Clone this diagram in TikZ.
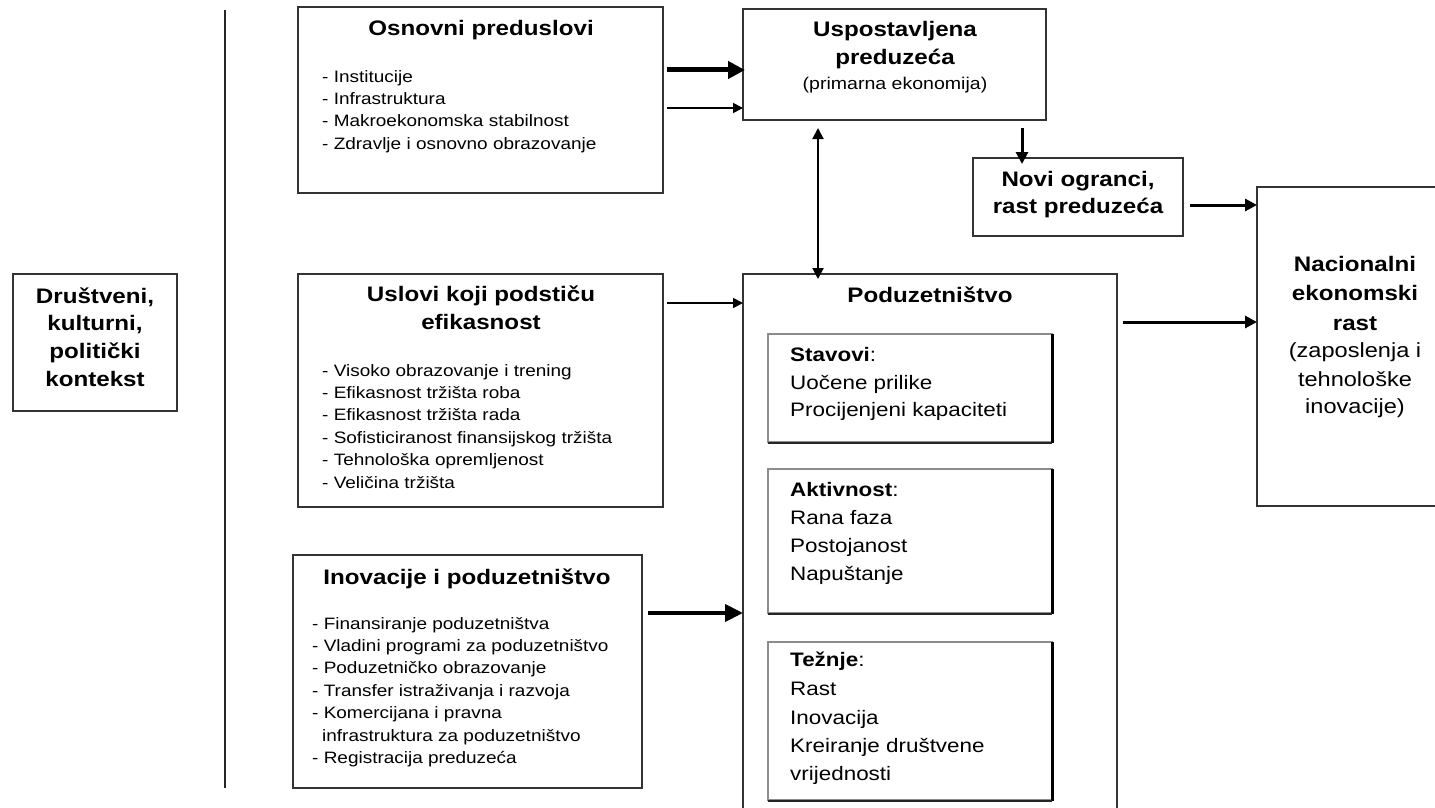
\documentclass[tikz,border=0pt]{standalone}
\usepackage{fontspec}
\setmainfont{Liberation Sans}[FakeStretch=1.15]
\usetikzlibrary{arrows.meta,calc}
\begin{document}
\begin{tikzpicture}[x=1pt,y=-1pt,
  box/.style={draw=black!80, line width=1.5pt, rectangle, inner sep=0pt, outer sep=0pt, anchor=north west},
  inbox/.style={draw=black!45, line width=1.2pt, rectangle, inner sep=0pt, outer sep=0pt, anchor=north west},
  ttl/.style={font=\fontsize{21}{28}\selectfont\bfseries, inner sep=0pt, anchor=base},
  lst/.style={font=\fontsize{16.5}{22}\selectfont, inner sep=0pt, anchor=base west},
  sbt/.style={font=\fontsize{17}{22}\selectfont, inner sep=0pt, anchor=base},
  nsb/.style={font=\fontsize{20.5}{28}\selectfont, inner sep=0pt, anchor=base},
  inn/.style={font=\fontsize{19.5}{28}\selectfont, inner sep=0pt, anchor=base west},
  afive/.style={line width=5pt, -{Triangle[length=17pt,width=17pt]}},
  afour/.style={line width=4pt, -{Triangle[length=18pt,width=17pt]}},
  athree/.style={line width=3pt, -{Triangle[length=12pt,width=12pt]}},
  atwo/.style={line width=1.8pt, -{Triangle[length=10pt,width=10pt]}},
  abi/.style={line width=2pt, {Triangle[length=11pt,width=11pt]}-{Triangle[length=11pt,width=11pt]}},
]
\useasboundingbox (0,0) rectangle (1435,808);
\clip (0,0) rectangle (1435,808);
\fill[white] (0,0) rectangle (1435,808);

% ---------- boxes ----------
\node[box, minimum width=164pt, minimum height=137pt] (drus) at (13,274) {};
\node[box, minimum width=365pt, minimum height=186pt] (osn) at (298,7) {};
\node[box, minimum width=365pt, minimum height=233pt] (usl) at (298,274) {};
\node[box, minimum width=349pt, minimum height=233pt] (ino) at (293,555) {};
\node[box, minimum width=303pt, minimum height=111pt] (usp) at (743,9) {};
\node[box, minimum width=210pt, minimum height=78pt] (novi) at (973,158) {};
\node[box, minimum width=374pt, minimum height=560pt] (pod) at (743,274) {};
\node[box, minimum width=210pt, minimum height=319pt] (nac) at (1257,187) {};
\node[inbox, minimum width=284pt, minimum height=108pt] (stav) at (768,334) {};
\node[inbox, minimum width=284pt, minimum height=144pt] (akt) at (768,469) {};
\node[inbox, minimum width=284pt, minimum height=158pt] (tez) at (768,642) {};
\foreach \b in {stav,akt,tez}{
  \draw[line width=3pt, black] ($(\b.north east)+(0.8,0)$) -- ($(\b.south east)+(0.8,0.8)$);
  \draw[line width=2pt, black!85] ($(\b.south west)+(0,0.5)$) -- ($(\b.south east)+(0,0.5)$);
}

% vertical separator
\coordinate (vtop) at (225,10);
\coordinate (vbot) at (225,788);
\draw[line width=2pt, black!85] (vtop) -- (vbot);

% ---------- texts ----------
\node[ttl] (d1) at (95,303) {Društveni,};
\node[ttl] (d2) at (95,330) {kulturni,};
\node[ttl] (d3) at (95,358) {politički};
\node[ttl] (d4) at (95,386) {kontekst};

\node[ttl] (o0) at (481,36) {Osnovni preduslovi};
\node[lst] (o1) at (322,82) {- Institucije};
\node[lst] (o2) at (322,104) {- Infrastruktura};
\node[lst] (o3) at (322,126) {- Makroekonomska stabilnost};
\node[lst] (o4) at (322,149) {- Zdravlje i osnovno obrazovanje};

\node[ttl] (u0) at (481,301) {Uslovi koji podstiču};
\node[ttl] (u0b) at (481,329) {efikasnost};
\node[lst] (u1) at (322,376) {- Visoko obrazovanje i trening};
\node[lst] (u2) at (322,398.4) {- Efikasnost tržišta roba};
\node[lst] (u3) at (322,420.8) {- Efikasnost tržišta rada};
\node[lst] (u4) at (322,443.2) {- Sofisticiranost finansijskog tržišta};
\node[lst] (u5) at (322,465.6) {- Tehnološka opremljenost};
\node[lst] (u6) at (322,488) {- Veličina tržišta};

\node[ttl] (i0) at (467,584) {Inovacije i poduzetništvo};
\node[lst] (i1) at (312,629) {- Finansiranje poduzetništva};
\node[lst] (i2) at (312,651.4) {- Vladini programi za poduzetništvo};
\node[lst] (i3) at (312,673.8) {- Poduzetničko obrazovanje};
\node[lst] (i4) at (312,696.2) {- Transfer istraživanja i razvoja};
\node[lst] (i5) at (312,718.6) {- Komercijana i pravna};
\node[lst] (i6) at (322,741) {infrastruktura za poduzetništvo};
\node[lst] (i7) at (312,763.4) {- Registracija preduzeća};

\node[ttl] (s1) at (895,37) {Uspostavljena};
\node[ttl] (s2) at (895,65) {preduzeća};
\node[sbt] (s3) at (895,89) {(primarna ekonomija)};

\node[ttl] (n1) at (1078,186) {Novi ogranci,};
\node[ttl] (n2) at (1078,213) {rast preduzeća};

\node[ttl] (c1) at (1355,271) {Nacionalni};
\node[ttl] (c2) at (1355,300) {ekonomski};
\node[ttl] (c3) at (1355,330) {rast};
\node[nsb] (c4) at (1355,357) {(zaposlenja i};
\node[nsb] (c5) at (1355,386) {tehnološke};
\node[nsb] (c6) at (1355,413) {inovacije)};

\node[ttl] (p0) at (930,302) {Poduzetništvo};
\node[inn] (t1) at (790,361) {\textbf{Stavovi}:};
\node[inn] (t2) at (790,389) {Uočene prilike};
\node[inn] (t3) at (790,416) {Procijenjeni kapaciteti};
\node[inn] (k1) at (790,496) {\textbf{Aktivnost}:};
\node[inn] (k2) at (790,524) {Rana faza};
\node[inn] (k3) at (790,552) {Postojanost};
\node[inn] (k4) at (790,580) {Napuštanje};
\node[inn] (z1) at (790,666) {\textbf{Težnje}:};
\node[inn] (z2) at (790,695) {Rast};
\node[inn] (z3) at (790,724) {Inovacija};
\node[inn] (z4) at (790,752) {Kreiranje društvene};
\node[inn] (z5) at (790,780) {vrijednosti};

% ---------- connectors ----------
\coordinate (r1) at (0,70);
\coordinate (r2) at (0,108);
\coordinate (r3) at (0,303);
\coordinate (r4) at (0,613);
\coordinate (r5) at (0,205);
\coordinate (r6) at (0,322);
\coordinate (q1) at (1022,0);
\coordinate (q2) at (818,0);

\draw[afive] ($(osn.east|-r1)+(4,0)$) -- ($(usp.west|-r1)+(2,0)$);
\draw[atwo] ($(osn.east|-r2)+(4,0)$) -- (usp.west|-r2);
\draw[atwo] ($(usl.east|-r3)+(4,0)$) -- (pod.west|-r3);
\draw[afour] ($(ino.east|-r4)+(6,0)$) -- (pod.west|-r4);
\draw[athree] ($(usp.south-|q1)+(0,8)$) -- ($(novi.north-|q1)+(0,6)$);
\draw[abi] ($(usp.south-|q2)+(0,8)$) -- ($(pod.north-|q2)+(0,5)$);
\draw[athree] ($(novi.east|-r5)+(7,0)$) -- (nac.west|-r5);
\draw[athree] ($(pod.east|-r6)+(6,0)$) -- (nac.west|-r6);
\end{tikzpicture}
\end{document}
